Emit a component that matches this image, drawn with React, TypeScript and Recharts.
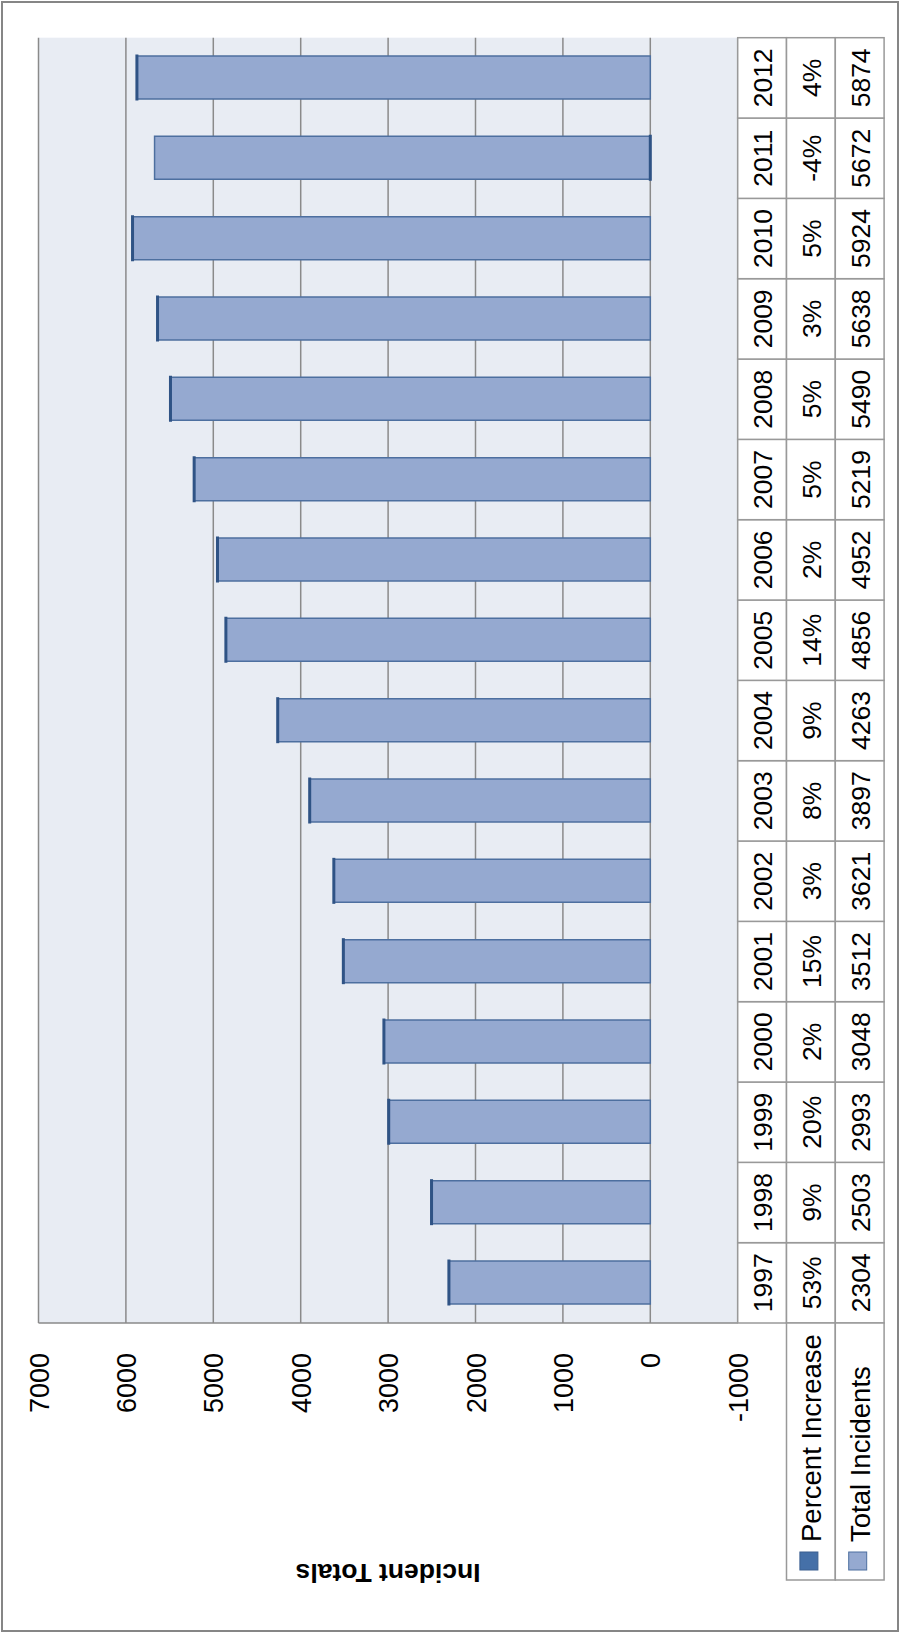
import React from 'react';
import { BarChart, Bar, XAxis, YAxis, CartesianGrid } from 'recharts';

const years = ['1997', '1998', '1999', '2000', '2001', '2002', '2003', '2004', '2005', '2006', '2007', '2008', '2009', '2010', '2011', '2012'];
const totalIncidents = [2304, 2503, 2993, 3048, 3512, 3621, 3897, 4263, 4856, 4952, 5219, 5490, 5638, 5924, 5672, 5874];
const percentIncrease = [53, 9, 20, 2, 15, 3, 8, 9, 14, 2, 5, 5, 3, 5, -4, 4];
const valueTicks = [-1000, 0, 1000, 2000, 3000, 4000, 5000, 6000, 7000];
const seriesNames = ['Percent Increase', 'Total Incidents'];

const data = years.map((y, i) => ({
  year: y,
  total: totalIncidents[i],
  pct: percentIncrease[i] / 100,
  pctLabel: percentIncrease[i] + '%',
}));

// Layout (unrotated chart; whole thing is rotated -90deg)
const W = 1633;
const H = 900;
const Y_AXIS_W = 310;
const M_TOP = 38.5;
const M_RIGHT = 37.7;
const X_AXIS_H = 162.3;
const PLOT_LEFT = Y_AXIS_W;
const PLOT_RIGHT = W - M_RIGHT;
const PLOT_BOTTOM = H - X_AXIS_H;
const BAND = (PLOT_RIGHT - PLOT_LEFT) / years.length;
const ROW_H = 48.8;
const HEADER_LEFT = 53;

const FONT = '"Liberation Sans", Arial, sans-serif';
const TABLE_LINE = '#999999';
const LIGHT = '#95a9d0';
const LIGHT_STROKE = '#4d6f9f';
const DARK = '#4570a8';

const YTick = (props: any) => {
  const { y, payload } = props;
  return (
    <text x={PLOT_LEFT - 30} y={y + 1} textAnchor="end" dominantBaseline="central" fontSize={27} fontFamily={FONT} fill="#000">
      {payload.value}
    </text>
  );
};

const TableTick = (props: any) => {
  const { x, index } = props;
  const d = data[index];
  const left = x - BAND / 2;
  const rows = [d.year, d.pctLabel, String(d.total)];
  return (
    <g>
      {rows.map((t, r) => (
        <g key={r}>
          <rect x={left} y={PLOT_BOTTOM + r * ROW_H} width={BAND} height={ROW_H} fill="#fff" stroke={TABLE_LINE} strokeWidth={1.5} />
          <text x={x} y={PLOT_BOTTOM + r * ROW_H + ROW_H / 2 + 1} textAnchor="middle" dominantBaseline="central" fontSize={26.5} fontFamily={FONT} fill="#000">
            {t}
          </text>
        </g>
      ))}
    </g>
  );
};

export default function App() {
  const keyColors = [DARK, LIGHT];
  const keyStrokes = ['#3a5f90', LIGHT_STROKE];
  return (
    <div style={{ position: 'absolute', left: 0, top: 0, width: 900, height: 1633, overflow: 'hidden', background: '#fff' }}>
      <div style={{ position: 'absolute', left: 0, top: 0, width: W, height: H, transformOrigin: '0 0', transform: `translate(0px, ${W}px) rotate(-90deg)` }}>
        <div style={{ position: 'absolute', left: 0, top: 0 }}>
          <BarChart width={W} height={H} data={data} margin={{ top: M_TOP, right: M_RIGHT, bottom: 0, left: 0 }} stackOffset="sign" barSize={43}>
            <CartesianGrid vertical={false} stroke="#8a8a8a" strokeWidth={1.5} fill="#e8ecf3" fillOpacity={1} />
            <YAxis type="number" domain={[-1000, 7000]} ticks={valueTicks} width={Y_AXIS_W} axisLine={{ stroke: '#8a8a8a', strokeWidth: 1.5 }} tickLine={false} tick={<YTick />} interval={0} allowDataOverflow />
            <XAxis dataKey="year" height={X_AXIS_H} axisLine={false} tickLine={false} tick={<TableTick />} interval={0} />
            <Bar dataKey="total" name="Total Incidents" stackId="s" fill={LIGHT} stroke={LIGHT_STROKE} strokeWidth={1.5} isAnimationActive={false} />
            <Bar dataKey="pct" name="Percent Increase" stackId="s" fill={DARK} stroke="#2f5385" strokeWidth={3} isAnimationActive={false} />
          </BarChart>
        </div>
        <svg width={W} height={H} style={{ position: 'absolute', left: 0, top: 0, pointerEvents: 'none' }}>
          <rect x={2} y={2} width={W - 4} height={H - 4} fill="none" stroke="#868686" strokeWidth={2} />
          {seriesNames.map((name, r) => {
            const top = PLOT_BOTTOM + (r + 1) * ROW_H;
            return (
              <g key={name}>
                <rect x={HEADER_LEFT} y={top} width={PLOT_LEFT - HEADER_LEFT} height={ROW_H} fill="#fff" stroke={TABLE_LINE} strokeWidth={1.5} />
                <rect x={HEADER_LEFT + 10} y={top + ROW_H / 2 - 11} width={18} height={18} fill={keyColors[r]} stroke={keyStrokes[r]} strokeWidth={1} />
                <text x={HEADER_LEFT + 38} y={top + ROW_H / 2 + 1} dominantBaseline="central" fontSize={27.5} fontFamily={FONT} fill="#000">
                  {name}
                </text>
              </g>
            );
          })}
          <text x={60} y={(M_TOP + PLOT_BOTTOM) / 2} transform={`rotate(-90, 60, ${(M_TOP + PLOT_BOTTOM) / 2})`} textAnchor="middle" dominantBaseline="central" fontSize={26.5} fontWeight="bold" fontFamily={FONT} fill="#000">
            Incident Totals
          </text>
        </svg>
      </div>
    </div>
  );
}
